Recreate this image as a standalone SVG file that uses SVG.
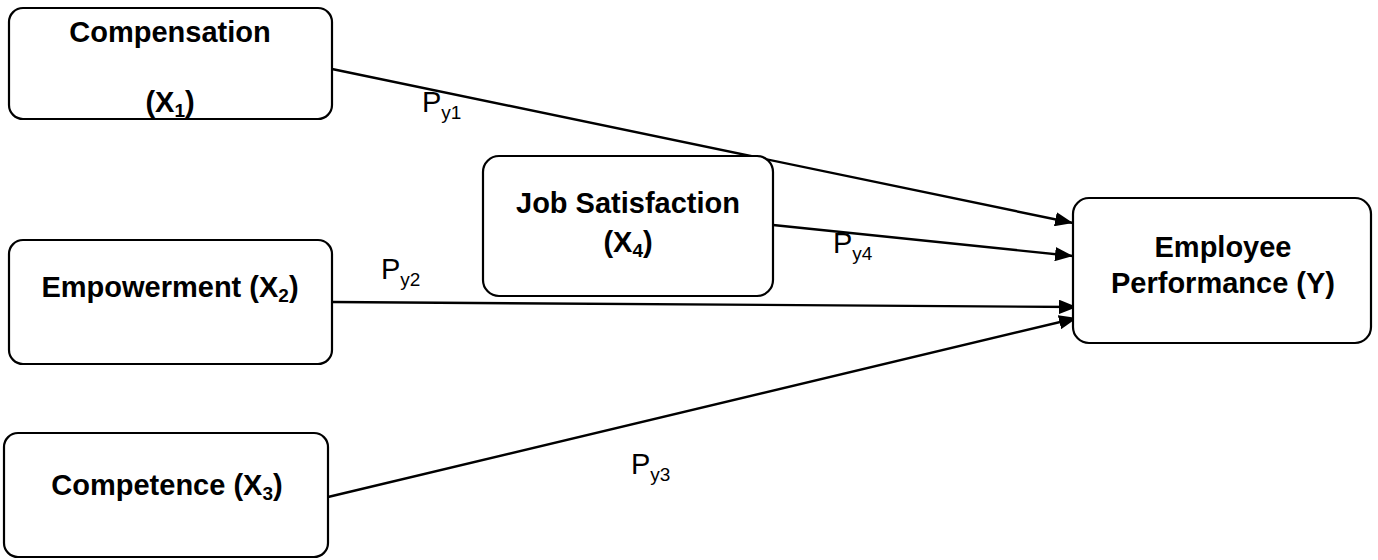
<svg xmlns="http://www.w3.org/2000/svg" width="1378" height="560" viewBox="0 0 1378 560">
<style>
.box{fill:#fff;stroke:#000;stroke-width:2.2}
.t{font-family:"Liberation Sans",Arial,sans-serif;font-weight:bold;font-size:29px;fill:#000;text-anchor:middle}
.p{font-family:"Liberation Sans",Arial,sans-serif;font-size:29px;fill:#000}
.s{font-size:19px}
.c{stroke:#000;stroke-width:2.4;fill:none;marker-end:url(#ah)}
</style>
<defs>
<marker id="ah" markerWidth="7.5" markerHeight="6" refX="7.5" refY="3" orient="auto" markerUnits="strokeWidth">
<path d="M0,0 L7.5,3 L0,6 Z" fill="#000"/>
</marker>
</defs>
<rect width="1378" height="560" fill="#fff"/>
<g id="connectors">
<line class="c" x1="332" y1="69" x2="1073" y2="223"/>
<line class="c" x1="773" y1="225" x2="1073" y2="256"/>
<line class="c" x1="332" y1="302" x2="1077" y2="307"/>
<line class="c" x1="328" y1="497" x2="1077" y2="318"/>
<text class="p" x="422" y="112">P<tspan class="s" dy="7">y1</tspan></text>
<text class="p" x="381" y="279">P<tspan class="s" dy="7">y2</tspan></text>
<text class="p" x="631" y="474">P<tspan class="s" dy="7">y3</tspan></text>
<text class="p" x="833" y="253">P<tspan class="s" dy="7">y4</tspan></text>
</g>
<g id="compensation">
<rect class="box" x="9" y="8" width="323" height="111" rx="14"/>
<text class="t" x="170" y="42">Compensation</text>
<text class="t" x="170" y="112">(X<tspan class="s" dy="5">1</tspan><tspan dy="-5">)</tspan></text>
</g>
<g id="empowerment">
<rect class="box" x="9" y="240" width="323" height="124" rx="14"/>
<text class="t" x="170" y="297">Empowerment (X<tspan class="s" dy="5">2</tspan><tspan dy="-5">)</tspan></text>
</g>
<g id="competence">
<rect class="box" x="4" y="433" width="324" height="124" rx="14"/>
<text class="t" x="167" y="495">Competence (X<tspan class="s" dy="5">3</tspan><tspan dy="-5">)</tspan></text>
</g>
<g id="job-satisfaction">
<rect class="box" x="483" y="156" width="290" height="140" rx="16"/>
<text class="t" x="628" y="213">Job Satisfaction</text>
<text class="t" x="628" y="252">(X<tspan class="s" dy="5">4</tspan><tspan dy="-5">)</tspan></text>
</g>
<g id="employee-performance">
<rect class="box" x="1073" y="198" width="298" height="145" rx="16"/>
<text class="t" x="1223" y="257">Employee</text>
<text class="t" x="1223" y="293">Performance (Y)</text>
</g>
</svg>
